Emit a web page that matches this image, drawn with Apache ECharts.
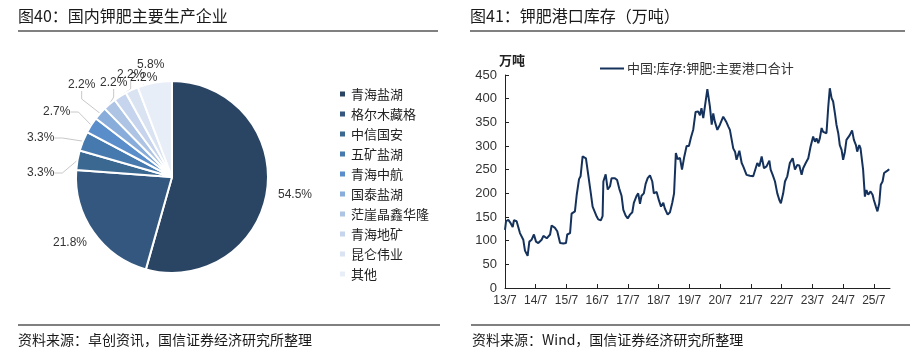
<!DOCTYPE html>
<html><head><meta charset="utf-8">
<script src="https://cdn.jsdelivr.net/npm/echarts@6/dist/echarts.min.js"></script>
<style>html,body{margin:0;padding:0;background:#fff}#c{width:913px;height:356px}</style>
</head><body><div id="c"></div>
<script>
// ---- Pie data (图40) ----
const pieNames = ['青海盐湖','格尔木藏格','中信国安','五矿盐湖','青海中航','国泰盐湖','茫崖晶鑫华隆','青海地矿','昆仑伟业','其他'];
const pieValues = [54.5, 21.8, 3.3, 3.3, 2.7, 2.2, 2.2, 2.2, 2.2, 5.8];
const pieColors = ['#2a4564','#33577e','#3b6891','#4679ad','#5a8ecb','#88addb','#adc4e5','#c6d5ed','#d9e3f2','#e8eef7'];

// ---- Line data (图41) ----
const stockDates = [
'2013-07-01','2013-07-13','2013-08-10','2013-09-07','2013-10-01','2013-10-16','2013-11-17','2013-12-07','2013-12-26',
'2014-01-16','2014-02-05','2014-02-25','2014-03-14','2014-03-26','2014-04-16','2014-05-13','2014-06-10','2014-07-04','2014-08-01','2014-09-10','2014-10-01','2014-11-10','2014-12-19',
'2015-01-07','2015-02-16','2015-03-13','2015-04-16','2015-05-25','2015-06-25','2015-07-10','2015-08-13','2015-09-01','2015-10-10','2015-11-01','2015-11-28','2015-12-16',
'2016-01-10','2016-02-19','2016-03-16','2016-04-13','2016-05-07','2016-06-25','2016-07-13','2016-08-13','2016-09-04','2016-09-13','2016-10-10','2016-11-04','2016-12-01','2016-12-19',
'2017-01-28','2017-02-24','2017-03-19','2017-04-16','2017-05-07','2017-06-04','2017-06-28','2017-07-25','2017-08-22','2017-09-10','2017-10-13','2017-11-01','2017-11-22','2017-12-10',
'2018-01-07','2018-01-28','2018-02-22','2018-03-19','2018-04-16','2018-05-04','2018-06-07','2018-07-04','2018-07-28','2018-08-25','2018-09-13','2018-10-16','2018-11-13','2018-12-10',
'2019-01-01','2019-01-22','2019-02-13','2019-03-10','2019-04-04','2019-04-28','2019-05-28','2019-06-25','2019-07-19','2019-08-16','2019-09-13','2019-10-13','2019-11-04','2019-11-22','2019-12-13',
'2020-02-01','2020-03-01','2020-03-22','2020-04-10','2020-04-28','2020-05-28','2020-06-28','2020-08-07','2020-09-10','2020-10-07','2020-10-25','2020-12-04','2020-12-25',
'2021-01-13','2021-02-16','2021-03-13','2021-04-01','2021-05-10','2021-06-19','2021-07-28','2021-08-19','2021-09-16','2021-10-10','2021-11-07','2021-12-04',
'2022-01-04','2022-02-07','2022-02-22','2022-03-16','2022-04-13','2022-05-10','2022-06-04','2022-06-22','2022-07-19','2022-08-10','2022-09-07','2022-10-07','2022-11-10','2022-12-07',
'2023-01-04','2023-01-28','2023-02-25','2023-03-13','2023-04-13','2023-05-13','2023-06-10','2023-07-10','2023-08-01','2023-08-19','2023-09-10','2023-09-28','2023-10-19','2023-11-07','2023-11-28','2023-12-16',
'2024-01-07','2024-01-25','2024-02-16','2024-03-04','2024-03-25','2024-04-13','2024-05-04','2024-05-22','2024-06-13','2024-07-01','2024-07-22','2024-08-10','2024-09-01','2024-09-19','2024-10-16','2024-11-07','2024-12-01','2024-12-16',
'2025-01-10','2025-01-25','2025-02-25','2025-03-16','2025-04-04','2025-04-25','2025-05-22','2025-06-16','2025-07-01','2025-07-25','2025-08-13','2025-09-04','2025-09-22','2025-10-13','2025-11-01','2025-11-22','2025-12-10','2026-01-01'
];
const stockValues = [
123,141,144,137,129,143,141,137,116,
120,102,79,77,68,98,102,113,98,95,102,110,105,113,
132,127,120,95,94,95,113,116,157,162,197,230,236,
278,274,239,204,172,151,145,143,152,225,240,208,215,232,
232,228,210,195,165,153,147,155,160,180,195,200,178,195,
200,220,232,238,225,200,203,185,172,180,168,155,160,180,
200,285,272,275,250,275,300,300,318,335,372,373,365,380,359,
420,383,345,369,352,334,345,362,352,341,334,295,288,
271,290,264,257,239,237,236,239,264,257,278,253,
257,269,250,239,225,200,186,179,200,225,236,264,274,250,
260,259,239,253,264,274,299,320,309,316,306,316,338,330,334,327,
383,422,401,394,369,345,327,302,292,271,288,313,309,323,333,313,302,288,
302,295,250,193,207,197,204,197,186,172,162,179,218,225,243,239,248,251
];
const xTickLabels = ['13/7','14/7','15/7','16/7','17/7','18/7','19/7','20/7','21/7','22/7','23/7','24/7','25/7'];
const seriesName = '中国:库存:钾肥:主要港口合计';

// months since 2013-07 (axis origin)
function monthIndex(s) {
  const [y, m, d] = s.split('-').map(Number);
  return (y - 2013) * 12 + (m - 7) + (d - 1) / 30;
}
const lineData = stockDates.map((d, i) => [monthIndex(d), stockValues[i]]);

// where each pie label's text starts (left edge x, middle y), as in the reference layout
const pieLabelSpots = [[278,195],[53,243],[27,173],[27,138],[43,112],[68,85],[100,83],[117,75],[130,78],[137,65]];
const pieLabelLineShown = [false,false,true,true,true,true,true,true,true,false];

const CJK = '"Noto Sans CJK SC", sans-serif';
const LAT = '"Liberation Sans", Arial, "Noto Sans CJK SC", sans-serif';

const chart = echarts.init(document.getElementById('c'), null, {renderer: 'canvas'});
chart.setOption({
  animation: false,
  backgroundColor: '#ffffff',
  title: [
    {text: '图40：国内钾肥主要生产企业', left: 18, top: 8, padding: 0,
     textStyle: {fontSize: 16, fontWeight: 'normal', color: '#1a1a1a', fontFamily: CJK}},
    {text: '图41：钾肥港口库存（万吨）', left: 470, top: 8, padding: 0,
     textStyle: {fontSize: 16, fontWeight: 'normal', color: '#1a1a1a', fontFamily: CJK}},
    {text: '资料来源：卓创资讯，国信证券经济研究所整理', left: 18, top: 333, padding: 0,
     textStyle: {fontSize: 14, fontWeight: 'normal', color: '#1a1a1a', fontFamily: CJK}},
    {text: '资料来源：Wind，国信证券经济研究所整理', left: 472, top: 333, padding: 0,
     textStyle: {fontSize: 14, fontWeight: 'normal', color: '#1a1a1a', fontFamily: CJK}}
  ],
  graphic: [
    {type: 'line', shape: {x1: 18, y1: 31, x2: 438, y2: 31}, style: {stroke: '#808080', lineWidth: 2}},
    {type: 'line', shape: {x1: 470, y1: 31, x2: 905, y2: 31}, style: {stroke: '#808080', lineWidth: 2}},
    {type: 'line', shape: {x1: 18, y1: 325, x2: 440, y2: 325}, style: {stroke: '#808080', lineWidth: 2}},
    {type: 'line', shape: {x1: 471, y1: 325, x2: 910, y2: 325}, style: {stroke: '#808080', lineWidth: 2}}
  ],
  legend: [
    {data: pieNames, orient: 'vertical', left: 333, top: 82, itemWidth: 7, itemHeight: 7, itemGap: 6,
     icon: 'rect', textStyle: {fontSize: 13, color: '#222', fontFamily: CJK, lineHeight: 14}},
    {data: [{name: seriesName, icon: 'rect'}], left: 595, top: 57, itemWidth: 24, itemHeight: 2, itemGap: 0,
     textStyle: {fontSize: 13, color: '#333', fontFamily: CJK, padding: [0,0,0,-2]}}
  ],
  grid: {left: 505, right: 23, top: 75, bottom: 68},
  xAxis: {
    type: 'value', min: 0, max: 150.3, interval: 12,
    axisLine: {show: true, lineStyle: {color: '#222', width: 1}},
    axisTick: {show: true, inside: true, length: 4, lineStyle: {color: '#222'}},
    splitLine: {show: false},
    axisLabel: {margin: 7, fontSize: 12, color: '#333', fontFamily: LAT, showMaxLabel: false,
      formatter: v => (Math.abs(v / 12 - Math.round(v / 12)) < 1e-6 ? (xTickLabels[Math.round(v / 12)] || '') : '')}
  },
  yAxis: {
    type: 'value', min: 0, max: 450, interval: 50,
    name: '万吨', nameLocation: 'end', nameGap: 8,
    nameTextStyle: {fontSize: 13, fontWeight: 'bold', color: '#222', fontFamily: CJK, align: 'left', padding: [0,0,0,-6]},
    axisLine: {show: true, lineStyle: {color: '#222', width: 1}},
    axisTick: {show: true, inside: true, length: 4, lineStyle: {color: '#222'}},
    splitLine: {show: false},
    axisLabel: {margin: 8, fontSize: 13, color: '#333', fontFamily: LAT}
  },
  series: [
    {
      type: 'pie', name: '企业', center: [172, 177], radius: [0, 96], startAngle: 90, clockwise: true,
      avoidLabelOverlap: false,
      data: pieNames.map((n, i) => ({name: n, value: pieValues[i], itemStyle: {color: pieColors[i]},
                                     labelLine: {show: pieLabelLineShown[i]}})),
      itemStyle: {borderColor: '#fff', borderWidth: 2},
      label: {show: true, position: 'outside', formatter: p => p.value.toFixed(1) + '%',
              fontSize: 12, color: '#333', fontFamily: LAT},
      labelLine: {show: true, length: 6, length2: 8, lineStyle: {color: '#c8c8c8', width: 1}},
      labelLayout: p => ({x: pieLabelSpots[p.dataIndex][0], y: pieLabelSpots[p.dataIndex][1],
                          align: 'left', verticalAlign: 'middle'}),
      emphasis: {disabled: true}
    },
    {
      type: 'line', name: seriesName, data: lineData, showSymbol: false, symbol: 'none',
      lineStyle: {color: '#15325c', width: 2}, itemStyle: {color: '#15325c'}, smooth: false
    }
  ]
});
</script></body></html>
